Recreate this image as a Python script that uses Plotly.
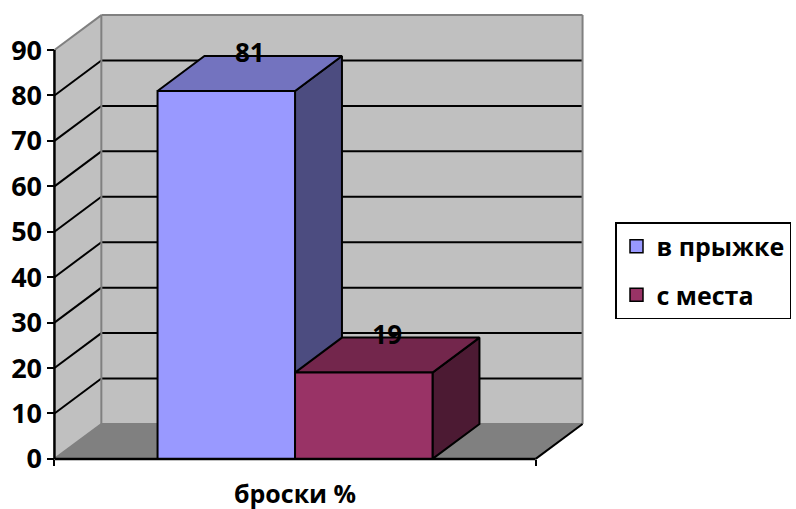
import plotly.graph_objects as go

# ---- data ----
categories = ["броски %"]
series_names = ["в прыжке", "с места"]
values = [81, 19]
front_colors = ["#9999FF", "#993366"]
y_ticks = [0, 10, 20, 30, 40, 50, 60, 70, 80, 90]

# ---- 3D column geometry (oblique projection, data units) ----
W, H = 796, 509
cat_width = 10.0          # width of the single category slot on the floor
gap_width = 1.5           # gap between category groups, as a fraction of one bar
depth_x = 0.975           # receding offset along x
depth_y = 7.7             # receding offset along y
y_max = 90
cat_center = cat_width / 2

px_x, px_y = 48.2, 4.544  # pixels per data unit
origin_px = (54, 459)      # where (0, 0) sits on the page

xr = [-0.3, cat_width + depth_x + 0.3]
yr = [-2.0, y_max + depth_y + 2.0]
m_l = origin_px[0] + xr[0] * px_x
plot_w = (xr[1] - xr[0]) * px_x
m_r = W - m_l - plot_w
m_b = H - origin_px[1] + yr[0] * px_y
plot_h = (yr[1] - yr[0]) * px_y
m_t = H - m_b - plot_h

FONT = "Open Sans"
WALL = "#C0C0C0"
FLOOR = "#808080"
EDGE = "#808080"


def shade(hex_color, k):
    h = hex_color.lstrip("#")
    r, g, b = (int(h[i:i + 2], 16) for i in (0, 2, 4))
    return "#%02X%02X%02X" % (round(r * k), round(g * k), round(b * k))


def poly(xs, ys, fill, line_color=None, width=0):
    return go.Scatter(
        x=xs + [xs[0]], y=ys + [ys[0]], mode="lines", fill="toself",
        fillcolor=fill,
        line=dict(color=line_color or fill, width=width),
        hoverinfo="skip", showlegend=False,
    )


def segments(pairs, color, width):
    xs, ys = [], []
    for (x0, y0), (x1, y1) in pairs:
        xs += [x0, x1, None]
        ys += [y0, y1, None]
    return go.Scatter(x=xs, y=ys, mode="lines",
                      line=dict(color=color, width=width),
                      hoverinfo="skip", showlegend=False)


fig = go.Figure()

# walls and floor
bx0, bx1 = depth_x, cat_width + depth_x
fig.add_trace(poly([bx0, bx1, bx1, bx0], [depth_y, depth_y, y_max + depth_y, y_max + depth_y], WALL))
fig.add_trace(poly([0, bx0, bx0, 0], [0, depth_y, y_max + depth_y, y_max], WALL))
fig.add_trace(poly([0, cat_width, bx1, bx0], [0, 0, depth_y, depth_y], FLOOR))

# gridlines on back wall and side wall
grid = []
for v in y_ticks:
    if 0 < v < y_max:
        grid.append(((bx0, v + depth_y), (bx1, v + depth_y)))
        grid.append(((0, v), (bx0, v + depth_y)))
fig.add_trace(segments(grid, "black", 2))

# wall edges
edges = [
    ((bx0, depth_y), (bx0, y_max + depth_y)),
    ((bx0, y_max + depth_y), (bx1, y_max + depth_y)),
    ((bx1, y_max + depth_y), (bx1, depth_y)),
    ((bx0, depth_y), (bx1, depth_y)),
    ((0, y_max), (bx0, y_max + depth_y)),
    ((0, 0), (bx0, depth_y)),
]
fig.add_trace(segments(edges, EDGE, 2))
fig.add_trace(segments([((cat_width, 0), (bx1, depth_y))], "black", 2))

# bars
n = len(values)
bar_w = cat_width / (n + gap_width)
left0 = cat_center - bar_w * n / 2
label_x, label_y = [], []
for i, (v, c) in enumerate(zip(values, front_colors)):
    xl = left0 + i * bar_w
    xr_ = xl + bar_w
    # right side face
    fig.add_trace(poly([xr_, xr_ + depth_x, xr_ + depth_x, xr_],
                       [0, depth_y, v + depth_y, v], shade(c, 0.5), "black", 2))
    # top face
    fig.add_trace(poly([xl, xr_, xr_ + depth_x, xl + depth_x],
                       [v, v, v + depth_y, v + depth_y], shade(c, 0.75), "black", 2))
    # front face
    fig.add_trace(poly([xl, xr_, xr_, xl], [0, 0, v, v], c, "black", 2))
    label_x.append(xl + bar_w / 2 + depth_x / 2)
    label_y.append(v + depth_y)

# front axis lines
fig.add_trace(segments([((0, 0), (0, y_max)), ((0, 0), (cat_width, 0))], "black", 2.5))

# value labels
fig.add_trace(go.Scatter(
    x=label_x, y=label_y, mode="text", text=[str(v) for v in values],
    textposition="middle center",
    textfont=dict(family=FONT, size=26, color="black", weight="bold"),
    hoverinfo="skip", showlegend=False, cliponaxis=False,
))

# legend entries
for i, (name, c) in enumerate(zip(series_names, front_colors)):
    fig.add_trace(go.Scatter(
        x=[None], y=[None], mode="markers", name=name, legendgroup=f"g{i}",
        marker=dict(symbol="square", size=13, color=c,
                    line=dict(color="black", width=1.5)),
    ))

fig.update_layout(
    width=W, height=H,
    margin=dict(l=m_l, r=m_r, t=m_t, b=m_b, autoexpand=False),
    paper_bgcolor="white", plot_bgcolor="white",
    font=dict(family=FONT, size=24, color="black", weight="bold"),
    xaxis=dict(
        range=xr, anchor="free", position=(0 - yr[0]) / (yr[1] - yr[0]),
        tickvals=[cat_center], ticktext=categories, ticks="",
        ticklabelstandoff=18,
        minor=dict(tickvals=[0, cat_width], ticks="outside", ticklen=6,
                   tickwidth=2, tickcolor="black"),
        showgrid=False, zeroline=False, showline=False,
        tickfont=dict(family=FONT, size=25, weight="bold"),
    ),
    yaxis=dict(
        range=yr, anchor="free", position=(0 - xr[0]) / (xr[1] - xr[0]),
        tickvals=y_ticks, ticks="outside", ticklen=7, tickwidth=2,
        tickcolor="black", showgrid=False, zeroline=False, showline=False,
        tickfont=dict(family=FONT, size=27, weight="bold"),
    ),
    legend=dict(
        xref="container", yref="container",
        x=615 / W, y=1 - 222 / H, xanchor="left", yanchor="top",
        bordercolor="black", borderwidth=1.5, bgcolor="white",
        tracegroupgap=13,
        font=dict(family=FONT, size=25, weight="bold"),
    ),
    showlegend=True,
)

fig.write_html("out.html")
